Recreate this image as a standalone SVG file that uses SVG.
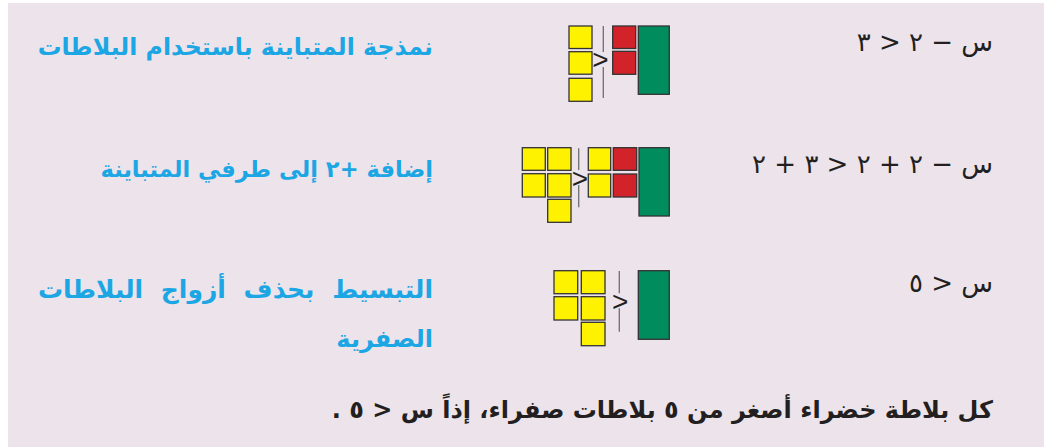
<svg xmlns="http://www.w3.org/2000/svg" width="1044" height="447" viewBox="0 0 1044 447">
<style>
.bg{fill:#ece3eb}
.y{fill:#fff200;stroke:#333;stroke-width:1.3}
.r{fill:#d2232a;stroke:#333;stroke-width:1.3}
.g{fill:#008c5c;stroke:#333;stroke-width:1.3}
.ln{stroke:#6d6e71;stroke-width:1.3;fill:none}
.gt{font-family:"Liberation Sans",Arial,sans-serif;font-size:28px;fill:#231f20;text-anchor:middle}
.lab{font-family:"DejaVu Sans",sans-serif;font-weight:bold;font-size:24px;fill:#1ca7e4;direction:rtl;text-anchor:start}
.eq{font-family:"DejaVu Sans",sans-serif;font-size:26px;fill:#231f20;direction:rtl;text-anchor:start}
.sum{font-family:"DejaVu Sans",sans-serif;font-weight:bold;font-size:24px;fill:#231f20;direction:rtl;text-anchor:start}
</style>
<rect class="bg" x="8" y="3" width="1036" height="444"/>

<g id="row1-label"><text class="lab" x="433" y="55" direction="rtl" style="font-size:23.7px">نمذجة المتباينة باستخدام البلاطات</text></g>
<g id="row1-tiles">
<rect class="y" x="569" y="26" width="23" height="22.5"/>
<rect class="y" x="569" y="51.7" width="23" height="22.5"/>
<rect class="y" x="569" y="78.3" width="23" height="23"/>
<line class="ln" x1="603.3" y1="26" x2="603.3" y2="52"/>
<line class="ln" x1="603.3" y1="67" x2="603.3" y2="98"/>
<text class="gt" x="600.5" y="69">&gt;</text>
<rect class="r" x="612.7" y="26" width="23" height="22.5"/>
<rect class="r" x="612.7" y="51.3" width="23" height="23"/>
<rect class="g" x="638.3" y="26" width="31" height="68.3"/>
</g>
<g id="row1-eq"><text class="eq" x="993" y="51" direction="rtl">س − ٢ &lt; ٣</text></g>

<g id="row2-label"><text class="lab" x="433" y="177" direction="rtl" style="font-size:22.6px">إضافة +٢ إلى طرفي المتباينة</text></g>
<g id="row2-tiles">
<rect class="y" x="522.3" y="147.7" width="23" height="22.6"/>
<rect class="y" x="547.7" y="147.7" width="23.3" height="22.6"/>
<rect class="y" x="522.3" y="173.7" width="23" height="23.3"/>
<rect class="y" x="547.7" y="173.7" width="23.3" height="23.3"/>
<rect class="y" x="547.7" y="199.3" width="23.3" height="23"/>
<line class="ln" x1="578.7" y1="148.3" x2="578.7" y2="170"/>
<line class="ln" x1="578.7" y1="185" x2="578.7" y2="207.3"/>
<text class="gt" x="580" y="187.5">&gt;</text>
<rect class="y" x="588.3" y="147.7" width="22.4" height="22.6"/>
<rect class="y" x="588.3" y="174" width="22.4" height="23"/>
<rect class="r" x="613.3" y="147.7" width="23.4" height="22.6"/>
<rect class="r" x="613.3" y="174" width="23.4" height="23"/>
<rect class="g" x="639" y="147.7" width="30.3" height="68.3"/>
</g>
<g id="row2-eq"><text class="eq" x="993" y="173" direction="rtl">س − ٢ + ٢ &lt; ٣ + ٢</text></g>

<g id="row3-label">
<text class="lab" x="433" y="298" direction="rtl" word-spacing="9" style="font-size:25px">التبسيط بحذف أزواج البلاطات</text>
<text class="lab" x="433" y="347" direction="rtl">الصفرية</text>
</g>
<g id="row3-tiles">
<rect class="y" x="554" y="270.7" width="23.7" height="23"/>
<rect class="y" x="581.3" y="270.7" width="23.7" height="23"/>
<rect class="y" x="554" y="296.7" width="23.7" height="23.3"/>
<rect class="y" x="581.3" y="296.7" width="23.7" height="23.3"/>
<rect class="y" x="581.3" y="322.3" width="23.7" height="23.4"/>
<line class="ln" x1="619.3" y1="271" x2="619.3" y2="293.3"/>
<line class="ln" x1="619.3" y1="308.3" x2="619.3" y2="331.7"/>
<text class="gt" x="620.3" y="311">&gt;</text>
<rect class="g" x="638.3" y="270.7" width="31" height="68.6"/>
</g>
<g id="row3-eq"><text class="eq" x="993" y="292" direction="rtl">س &lt; ٥</text></g>

<g id="conclusion"><text class="sum" x="993" y="418" direction="rtl">كل بلاطة خضراء أصغر من ٥ بلاطات صفراء، إذاً س &lt; ٥ .</text></g>
</svg>
